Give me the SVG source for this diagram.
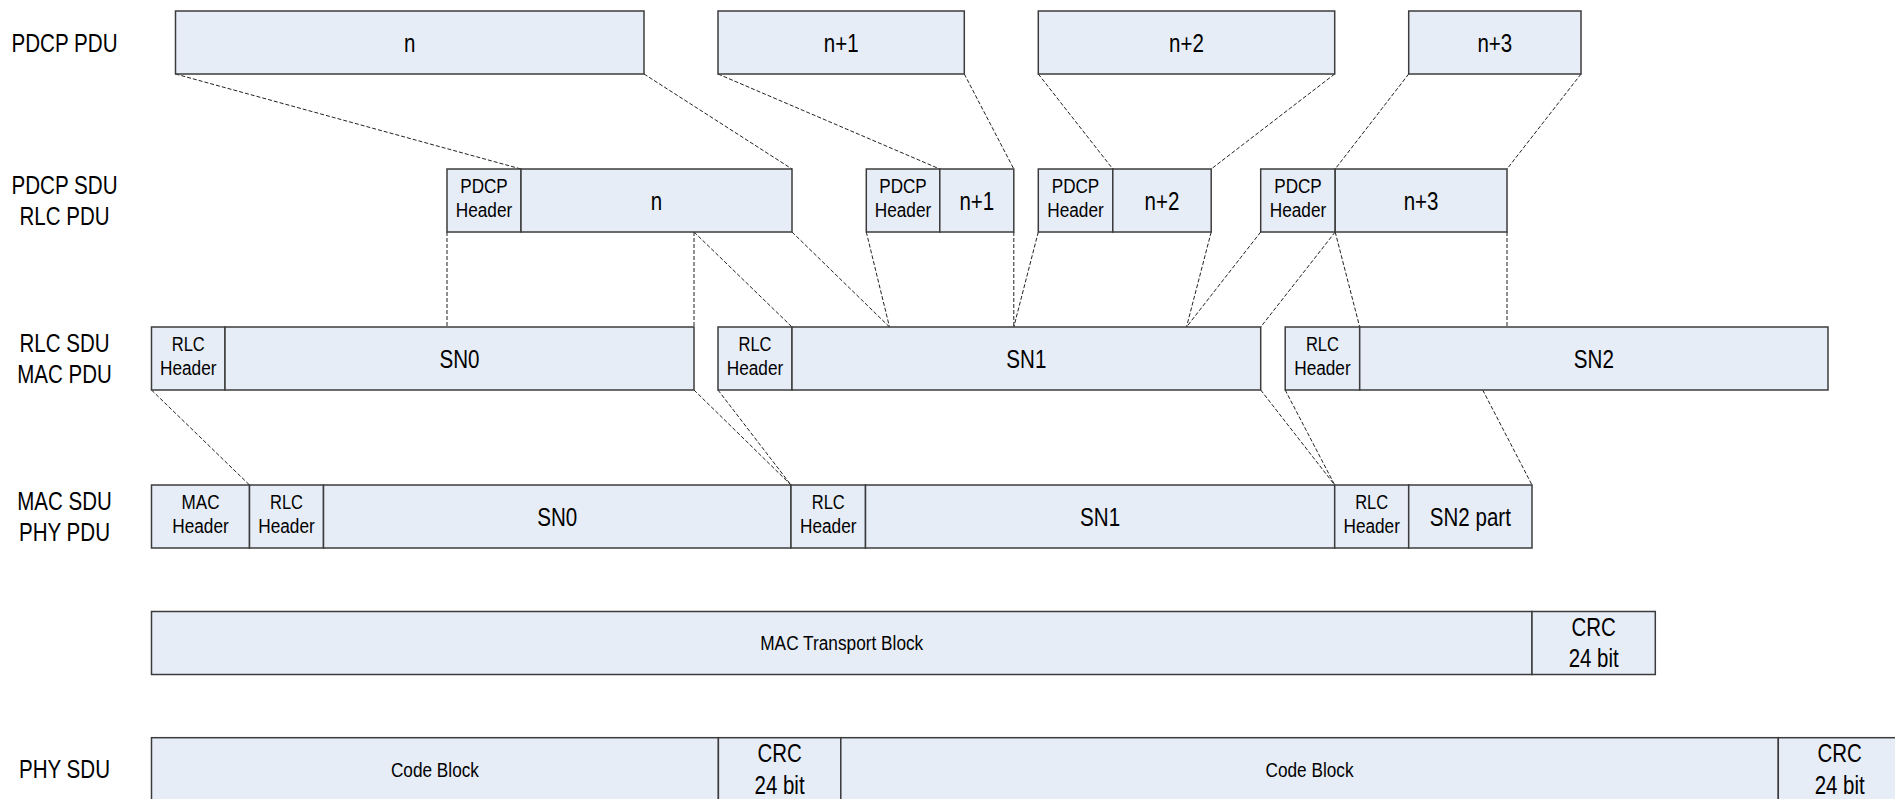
<svg xmlns="http://www.w3.org/2000/svg" width="1895" height="799" viewBox="0 0 1895 799">
<style>
.bg{fill:#ffffff}
.box{fill:#e7edf7;stroke:#3c3c3c;stroke-width:1.5}
text{font-family:"Liberation Sans",Arial,sans-serif;fill:#000;text-anchor:middle}
.big{font-size:26px}
.sm{font-size:20px}
.conn line{stroke:#222;stroke-width:1;stroke-dasharray:4 2;fill:none}
</style>
<rect class="bg" x="0" y="0" width="1895" height="799"/>

<g id="labels">
<text class="big" x="64.5" y="51.5" textLength="106" lengthAdjust="spacingAndGlyphs">PDCP PDU</text>
<text class="big" x="64.5" y="193.5" textLength="106" lengthAdjust="spacingAndGlyphs">PDCP SDU</text>
<text class="big" x="64.5" y="224.5" textLength="90" lengthAdjust="spacingAndGlyphs">RLC PDU</text>
<text class="big" x="64.5" y="351.5" textLength="90" lengthAdjust="spacingAndGlyphs">RLC SDU</text>
<text class="big" x="64.5" y="382.5" textLength="94.5" lengthAdjust="spacingAndGlyphs">MAC PDU</text>
<text class="big" x="64.5" y="509.5" textLength="94.5" lengthAdjust="spacingAndGlyphs">MAC SDU</text>
<text class="big" x="64.5" y="540.5" textLength="91" lengthAdjust="spacingAndGlyphs">PHY PDU</text>
<text class="big" x="64.5" y="778" textLength="91" lengthAdjust="spacingAndGlyphs">PHY SDU</text>
</g>

<g class="conn" id="connectors">
<line x1="175.5" y1="74" x2="521" y2="169"/>
<line x1="644" y1="74" x2="792" y2="169"/>
<line x1="718" y1="74" x2="939.8" y2="169"/>
<line x1="964.3" y1="74" x2="1013.8" y2="169"/>
<line x1="1038.3" y1="74" x2="1112.8" y2="169"/>
<line x1="1334.7" y1="74" x2="1211.2" y2="169"/>
<line x1="1408.7" y1="74" x2="1335.2" y2="169"/>
<line x1="1581" y1="74" x2="1507" y2="169"/>

<line x1="447" y1="232" x2="447" y2="327"/>
<line x1="694" y1="232" x2="694" y2="327"/>
<line x1="694" y1="232" x2="792" y2="327"/>
<line x1="792" y1="232" x2="889.5" y2="327"/>
<line x1="866.3" y1="232" x2="889.5" y2="327"/>
<line x1="1013.8" y1="232" x2="1013.8" y2="327"/>
<line x1="1038.3" y1="232" x2="1013.8" y2="327"/>
<line x1="1211.2" y1="232" x2="1186.5" y2="327"/>
<line x1="1260.7" y1="232" x2="1186.5" y2="327"/>
<line x1="1335.2" y1="232" x2="1260.7" y2="327"/>
<line x1="1335.2" y1="232" x2="1359.7" y2="327"/>
<line x1="1507" y1="232" x2="1507" y2="327"/>

<line x1="151.5" y1="390" x2="249.5" y2="485"/>
<line x1="694" y1="390" x2="791" y2="485"/>
<line x1="718" y1="390" x2="791" y2="485"/>
<line x1="1260.7" y1="390" x2="1334.7" y2="485"/>
<line x1="1285.2" y1="390" x2="1334.7" y2="485"/>
<line x1="1482.7" y1="390" x2="1532" y2="485"/>
</g>

<g id="pdcp-pdu-n">
<rect class="box" x="175.5" y="11" width="468.5" height="63"/>
<text class="big" x="409.75" y="51.5" textLength="11.4" lengthAdjust="spacingAndGlyphs">n</text>
</g>
<g id="pdcp-pdu-n1">
<rect class="box" x="718" y="11" width="246.3" height="63"/>
<text class="big" x="841.15" y="51.5" textLength="34.8" lengthAdjust="spacingAndGlyphs">n+1</text>
</g>
<g id="pdcp-pdu-n2">
<rect class="box" x="1038.3" y="11" width="296.4" height="63"/>
<text class="big" x="1186.5" y="51.5" textLength="34.8" lengthAdjust="spacingAndGlyphs">n+2</text>
</g>
<g id="pdcp-pdu-n3">
<rect class="box" x="1408.7" y="11" width="172.3" height="63"/>
<text class="big" x="1494.85" y="51.5" textLength="34.8" lengthAdjust="spacingAndGlyphs">n+3</text>
</g>

<g id="pdcp-sdu-n">
<rect class="box" x="447" y="169" width="74" height="63"/>
<rect class="box" x="521" y="169" width="271" height="63"/>
<text class="sm" x="484" y="193" textLength="47.5" lengthAdjust="spacingAndGlyphs">PDCP</text>
<text class="sm" x="484" y="217" textLength="56.5" lengthAdjust="spacingAndGlyphs">Header</text>
<text class="big" x="656.5" y="209.5" textLength="11.4" lengthAdjust="spacingAndGlyphs">n</text>
</g>
<g id="pdcp-sdu-n1">
<rect class="box" x="866.3" y="169" width="73.5" height="63"/>
<rect class="box" x="939.8" y="169" width="74" height="63"/>
<text class="sm" x="903" y="193" textLength="47.5" lengthAdjust="spacingAndGlyphs">PDCP</text>
<text class="sm" x="903" y="217" textLength="56.5" lengthAdjust="spacingAndGlyphs">Header</text>
<text class="big" x="976.8" y="209.5" textLength="34.8" lengthAdjust="spacingAndGlyphs">n+1</text>
</g>
<g id="pdcp-sdu-n2">
<rect class="box" x="1038.3" y="169" width="74.5" height="63"/>
<rect class="box" x="1112.8" y="169" width="98.4" height="63"/>
<text class="sm" x="1075.5" y="193" textLength="47.5" lengthAdjust="spacingAndGlyphs">PDCP</text>
<text class="sm" x="1075.5" y="217" textLength="56.5" lengthAdjust="spacingAndGlyphs">Header</text>
<text class="big" x="1162" y="209.5" textLength="34.8" lengthAdjust="spacingAndGlyphs">n+2</text>
</g>
<g id="pdcp-sdu-n3">
<rect class="box" x="1260.7" y="169" width="74.5" height="63"/>
<rect class="box" x="1335.2" y="169" width="171.8" height="63"/>
<text class="sm" x="1298" y="193" textLength="47.5" lengthAdjust="spacingAndGlyphs">PDCP</text>
<text class="sm" x="1298" y="217" textLength="56.5" lengthAdjust="spacingAndGlyphs">Header</text>
<text class="big" x="1421.1" y="209.5" textLength="34.8" lengthAdjust="spacingAndGlyphs">n+3</text>
</g>

<g id="rlc-sdu-sn0">
<rect class="box" x="151.5" y="327" width="73.5" height="63"/>
<rect class="box" x="225" y="327" width="469" height="63"/>
<text class="sm" x="188.25" y="351" textLength="33" lengthAdjust="spacingAndGlyphs">RLC</text>
<text class="sm" x="188.25" y="375" textLength="56.5" lengthAdjust="spacingAndGlyphs">Header</text>
<text class="big" x="459.5" y="367.5" textLength="40" lengthAdjust="spacingAndGlyphs">SN0</text>
</g>
<g id="rlc-sdu-sn1">
<rect class="box" x="718" y="327" width="74" height="63"/>
<rect class="box" x="792" y="327" width="468.7" height="63"/>
<text class="sm" x="755" y="351" textLength="33" lengthAdjust="spacingAndGlyphs">RLC</text>
<text class="sm" x="755" y="375" textLength="56.5" lengthAdjust="spacingAndGlyphs">Header</text>
<text class="big" x="1026.35" y="367.5" textLength="40" lengthAdjust="spacingAndGlyphs">SN1</text>
</g>
<g id="rlc-sdu-sn2">
<rect class="box" x="1285.2" y="327" width="74.5" height="63"/>
<rect class="box" x="1359.7" y="327" width="468.3" height="63"/>
<text class="sm" x="1322.45" y="351" textLength="33" lengthAdjust="spacingAndGlyphs">RLC</text>
<text class="sm" x="1322.45" y="375" textLength="56.5" lengthAdjust="spacingAndGlyphs">Header</text>
<text class="big" x="1593.85" y="367.5" textLength="40" lengthAdjust="spacingAndGlyphs">SN2</text>
</g>

<g id="mac-sdu">
<rect class="box" x="151.5" y="485" width="98" height="63"/>
<rect class="box" x="249.5" y="485" width="74" height="63"/>
<rect class="box" x="323.5" y="485" width="467.5" height="63"/>
<rect class="box" x="791" y="485" width="74.5" height="63"/>
<rect class="box" x="865.5" y="485" width="469.2" height="63"/>
<rect class="box" x="1334.7" y="485" width="74" height="63"/>
<rect class="box" x="1408.7" y="485" width="123.3" height="63"/>
<text class="sm" x="200.5" y="509" textLength="38" lengthAdjust="spacingAndGlyphs">MAC</text>
<text class="sm" x="200.5" y="533" textLength="56.5" lengthAdjust="spacingAndGlyphs">Header</text>
<text class="sm" x="286.5" y="509" textLength="33" lengthAdjust="spacingAndGlyphs">RLC</text>
<text class="sm" x="286.5" y="533" textLength="56.5" lengthAdjust="spacingAndGlyphs">Header</text>
<text class="big" x="557.25" y="525.5" textLength="40" lengthAdjust="spacingAndGlyphs">SN0</text>
<text class="sm" x="828.25" y="509" textLength="33" lengthAdjust="spacingAndGlyphs">RLC</text>
<text class="sm" x="828.25" y="533" textLength="56.5" lengthAdjust="spacingAndGlyphs">Header</text>
<text class="big" x="1100.1" y="525.5" textLength="40" lengthAdjust="spacingAndGlyphs">SN1</text>
<text class="sm" x="1371.7" y="509" textLength="33" lengthAdjust="spacingAndGlyphs">RLC</text>
<text class="sm" x="1371.7" y="533" textLength="56.5" lengthAdjust="spacingAndGlyphs">Header</text>
<text class="big" x="1470.35" y="525.5" textLength="81" lengthAdjust="spacingAndGlyphs">SN2 part</text>
</g>

<g id="mac-transport-block">
<rect class="box" x="151.5" y="611.5" width="1380.5" height="63"/>
<rect class="box" x="1532" y="611.5" width="123.3" height="63"/>
<text class="sm" x="841.75" y="650" textLength="163" lengthAdjust="spacingAndGlyphs">MAC Transport Block</text>
<text class="big" x="1593.65" y="635.5" textLength="44.4" lengthAdjust="spacingAndGlyphs">CRC</text>
<text class="big" x="1593.65" y="667" textLength="50" lengthAdjust="spacingAndGlyphs">24 bit</text>
</g>

<g id="phy-sdu">
<rect class="box" x="151.5" y="737.7" width="566.9" height="63"/>
<rect class="box" x="718.4" y="737.7" width="122.4" height="63"/>
<rect class="box" x="840.8" y="737.7" width="937.5" height="63"/>
<rect class="box" x="1778.3" y="737.7" width="122.7" height="63"/>
<text class="sm" x="434.95" y="777" textLength="88" lengthAdjust="spacingAndGlyphs">Code Block</text>
<text class="big" x="779.6" y="762" textLength="44.4" lengthAdjust="spacingAndGlyphs">CRC</text>
<text class="big" x="779.6" y="793.5" textLength="50" lengthAdjust="spacingAndGlyphs">24 bit</text>
<text class="sm" x="1309.55" y="777" textLength="88" lengthAdjust="spacingAndGlyphs">Code Block</text>
<text class="big" x="1839.65" y="762" textLength="44.4" lengthAdjust="spacingAndGlyphs">CRC</text>
<text class="big" x="1839.65" y="793.5" textLength="50" lengthAdjust="spacingAndGlyphs">24 bit</text>
</g>
</svg>
